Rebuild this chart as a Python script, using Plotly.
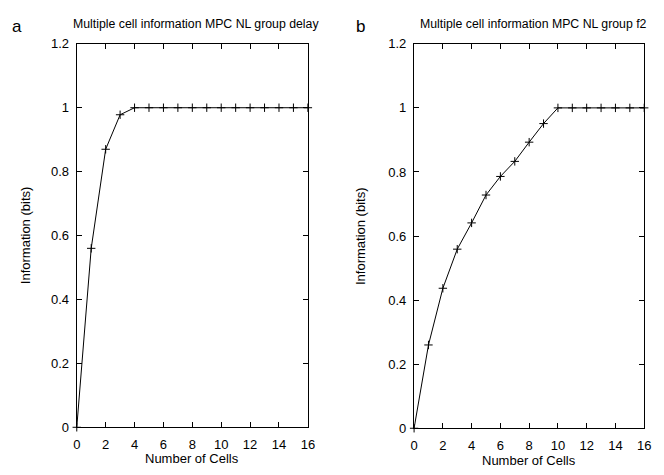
import plotly.graph_objects as go

W, H = 664, 475

cells = list(range(0, 17))
info_delay = [0, 0.56, 0.87, 0.978, 1, 1, 1, 1, 1, 1, 1, 1, 1, 1, 1, 1, 1]
info_f2 = [0, 0.26, 0.437, 0.559, 0.641, 0.728, 0.786, 0.833, 0.893, 0.951, 1, 1, 1, 1, 1, 1, 1]
x_ticks = [0, 2, 4, 6, 8, 10, 12, 14, 16]
y_ticks = [0, 0.2, 0.4, 0.6, 0.8, 1, 1.2]
titles = ["Multiple cell information MPC NL group delay", "Multiple cell information MPC NL group f2"]
panel_letters = ["a", "b"]
x_label = "Number of Cells"
y_label = "Information (bits)"

FONT = "Liberation Sans, Arial, Helvetica, sans-serif"

# pixel boxes of the plot areas: (left, right, top, bottom)
boxes = [(74, 309, 38, 434), (417, 651, 38, 435)]
ylab_x = [22, 362]
xlab_y = [466, 468]
letter_x = [13, 362]

def px(x):
    return x / W

def py(y):
    return 1 - y / H

fig = go.Figure()
series = [info_delay, info_f2]
for i, ys in enumerate(series):
    xa = "x" if i == 0 else "x2"
    ya = "y" if i == 0 else "y2"
    fig.add_trace(go.Scatter(
        x=cells, y=ys, xaxis=xa, yaxis=ya, mode="lines+markers",
        line=dict(color="black", width=1),
        marker=dict(symbol="cross-thin", size=6, line=dict(color="black", width=1), color="black"),
        showlegend=False, cliponaxis=False,
    ))

axis_common = dict(
    showline=True, mirror="ticks", linecolor="black", linewidth=1.3,
    ticks="inside", ticklen=5, tickwidth=1.2, tickcolor="black",
    showgrid=False, zeroline=False,
    tickfont=dict(family=FONT, size=13, color="black"),
)

layout = dict(
    width=W, height=H, margin=dict(l=0, r=0, t=0, b=0),
    paper_bgcolor="white", plot_bgcolor="white",
    font=dict(family=FONT, color="black"),
)
annotations = []
for i, (l, r, t, b) in enumerate(boxes):
    sfx = "" if i == 0 else "2"
    layout["xaxis" + sfx] = dict(axis_common, domain=[px(l), px(r)], range=[0, 16],
                                 tickvals=x_ticks, anchor="y" + sfx, ticklabelstandoff=5)
    layout["yaxis" + sfx] = dict(axis_common, domain=[py(b), py(t)], range=[0, 1.2],
                                 tickvals=y_ticks, anchor="x" + sfx, ticklabelstandoff=4)
    cx = (l + r) / 2
    annotations.append(dict(text=titles[i], x=px(cx + 4), y=py(18), xref="paper", yref="paper",
                            showarrow=False, xanchor="center", yanchor="middle",
                            font=dict(family=FONT, size=12.3)))
    annotations.append(dict(text=x_label, x=px(cx), y=py(xlab_y[i]), xref="paper", yref="paper",
                            showarrow=False, xanchor="center", yanchor="middle",
                            font=dict(family=FONT, size=13)))
    annotations.append(dict(text=y_label, x=px(ylab_x[i]), y=py((t + b) / 2), xref="paper", yref="paper",
                            showarrow=False, xanchor="center", yanchor="middle", textangle=-90,
                            font=dict(family=FONT, size=13)))
    annotations.append(dict(text=panel_letters[i], x=px(letter_x[i]), y=py(20), xref="paper", yref="paper",
                            showarrow=False, xanchor="center", yanchor="middle",
                            font=dict(family=FONT, size=17)))
layout["annotations"] = annotations
fig.update_layout(**layout)

fig.write_html("out.html")
